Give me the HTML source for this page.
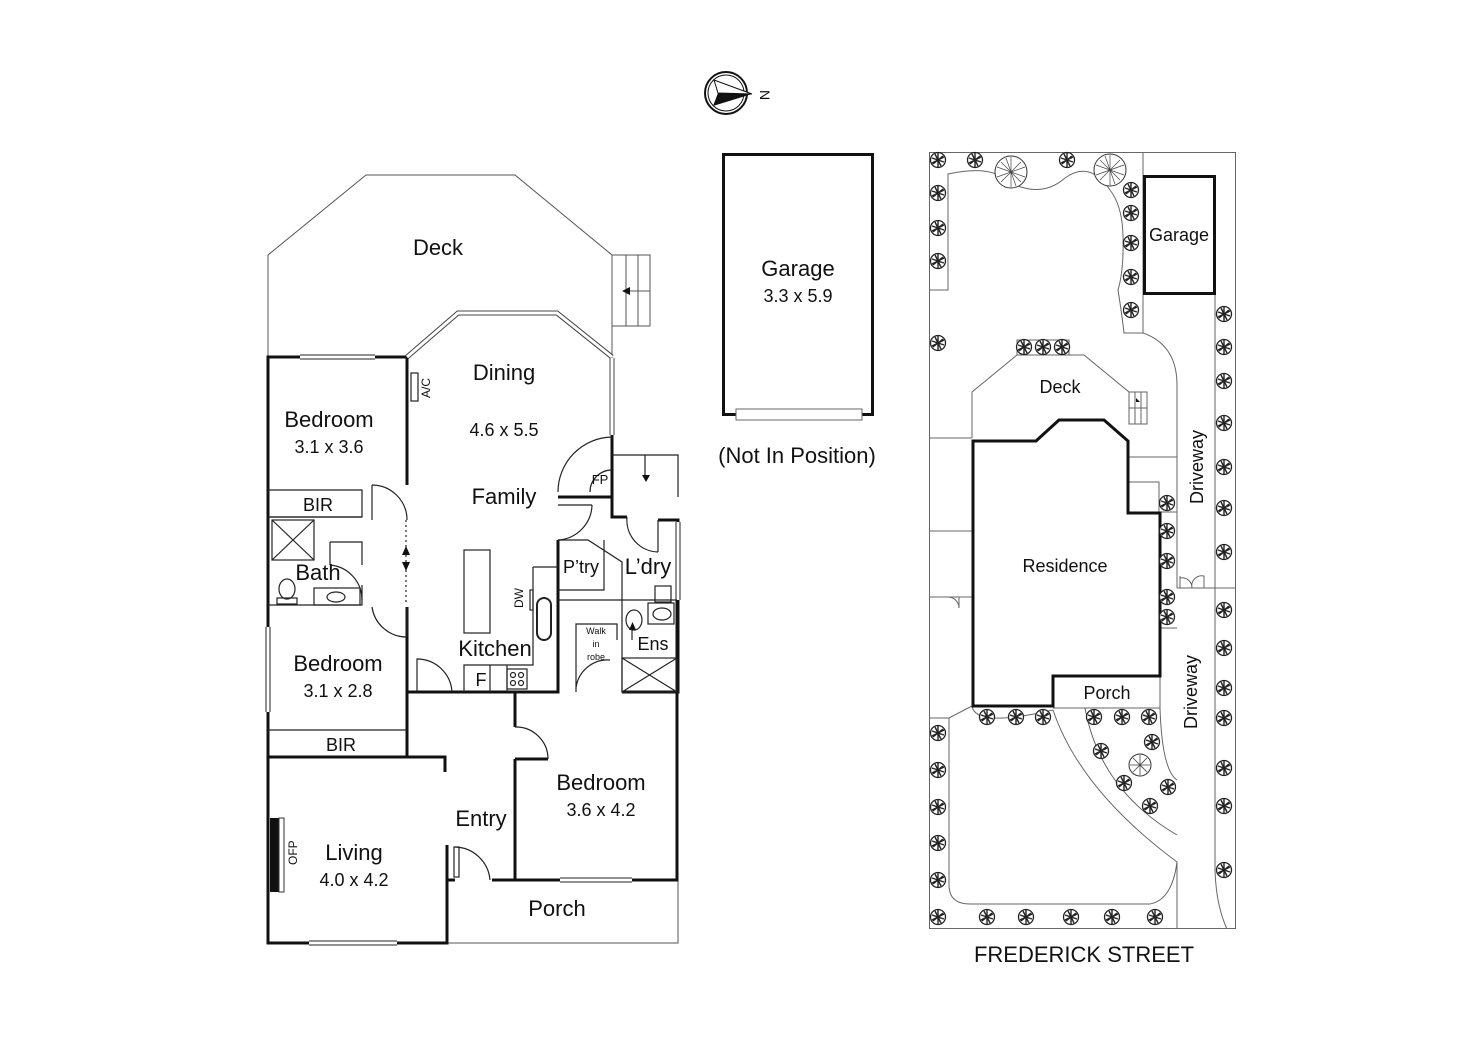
<!DOCTYPE html>
<html><head><meta charset="utf-8"><style>
html,body{margin:0;padding:0;background:#fff;}
svg{display:block;}
text{font-family:"Liberation Sans",Arial,sans-serif;fill:#111;}
.L{font-size:22px;} .D{font-size:18px;} .S{font-size:14px;}
</style></head><body>
<svg width="1472" height="1041" viewBox="0 0 1472 1041" xmlns="http://www.w3.org/2000/svg">
<defs>
<g id="t"><circle r="7.5" fill="#fff" stroke="#222" stroke-width="1.3"/><path d="M-6,-2 L6,2 M-5,4 L5,-4 M0,-7 L0,7 M-3,-6 L3,6 M-6,3 L6,-3" stroke="#222" stroke-width="1.4"/></g>
<g id="T"><circle r="16" fill="#fff" stroke="#333" stroke-width="1"/><path d="M0,-15 L0,15 M-14,-5 L14,5 M-10,10 L10,-10 M-10,-10 L10,10 M-5,-14 L5,14 M-14,5 L14,-5" stroke="#444" stroke-width="0.7"/></g>
</defs>

<!-- compass -->
<circle cx="726" cy="93" r="21" fill="#fff" stroke="#111" stroke-width="2"/>
<circle cx="726" cy="93" r="18" fill="none" stroke="#111" stroke-width="1"/>
<path d="M714,80 L752,94 L713,106 L718,93 Z" fill="#111"/>
<path d="M714,80 L752,94 L718,93 Z" fill="#fff" stroke="#111" stroke-width="1"/>
<text x="760" y="98" class="S" font-size="10" transform="rotate(90 764 94)">N</text>

<!-- ===== MAIN PLAN ===== -->
<g fill="none" stroke="#555" stroke-width="1">
<!-- deck -->
<path d="M268,358 L268,255 L366,175 L515,175 L612,255 L612,358"/>
<rect x="612" y="255" width="38" height="71"/>
<path d="M626,255V326 M638,255V326 M626,291H650"/>
<!-- porch -->
<path d="M447,943H678V880"/>
</g>
<path d="M622,291l8,-4v8z" fill="#111"/>

<g fill="none" stroke="#111" stroke-width="3">
<path d="M407,357H268V943H447V880"/>
<path d="M612,435V497H558"/>
<path d="M558,540V692H407V730"/>
<path d="M407,357V485 M407,607V757"/>
<path d="M612,497V517H627 M658,520H678V692H622"/>
<path d="M515,692V727 M515,759V880H677V600 M515,759H548"/>
<path d="M492,880H515"/>
<path d="M268,757H445V772 M447,845V880H455"/>
</g>
<g fill="none" stroke="#222" stroke-width="1.2">
<!-- dining bay windows -->
<path d="M407,357L458,313H557L612,357" stroke-width="5" stroke="#444"/>
<path d="M407,357L458,313H557L612,357" stroke-width="3" stroke="#fff"/>
<path d="M612,358V435" stroke-width="5" stroke="#444"/><path d="M612,358V435" stroke-width="3" stroke="#fff"/>
<!-- windows -->
<path d="M300,357H375" stroke-width="5"/><path d="M300,357H375" stroke-width="3" stroke="#fff"/>
<path d="M268,627V712" stroke-width="5"/><path d="M268,627V712" stroke-width="3" stroke="#fff"/>
<path d="M309,943H397" stroke-width="5"/><path d="M309,943H397" stroke-width="3" stroke="#fff"/>
<path d="M560,880H632" stroke-width="5"/><path d="M560,880H632" stroke-width="3" stroke="#fff"/>
<path d="M678,522V600" stroke-width="5"/><path d="M678,522V600" stroke-width="3" stroke="#fff"/>
<!-- rooms thin -->
<path d="M268,490H362V517H268 M362,490V517"/>
<path d="M268,517H362 M330,542H362V565 M362,585V605H268 M330,542V565"/>
<path d="M268,730H407"/>
<!-- doors arcs -->
<path d="M372,485A35,35 0 0 1 407,520 M372,485V520"/>
<path d="M330,565A35,35 0 0 1 362,600"/>
<path d="M407,607V637A35,35 0 0 1 372,607"/>
<path d="M612,437A55,55 0 0 0 558,492 M590,492A22,22 0 0 1 612,470"/>
<path d="M558,540A36,36 0 0 0 592,505 M558,505H592"/>
<path d="M627,517A32,32 0 0 0 658,552 M658,520V552"/>
<path d="M417,692V659A35,35 0 0 1 452,692"/>
<path d="M515,727A32,32 0 0 1 548,759"/>
<path d="M455,847A36,36 0 0 1 490,880"/>
<rect x="454" y="847" width="5" height="30"/>
<path d="M612,455H678V497 M645,455V478"/>
<!-- pantry etc -->
<path d="M558,540H588L622,562V692 M558,590H604V540"/>
<path d="M558,600H677"/>
<rect x="622" y="658" width="55" height="34"/><path d="M622,658L677,692M677,658L622,692"/>
<path d="M576,692V624H617V640 M576,692 M576,688A32,32 0 0 1 610,660"/>
<path d="M632,625V640"/>
<!-- kitchen -->
<rect x="464" y="550" width="26" height="83"/>
<path d="M533,567H558 M533,567V665H464V692 M490,665V692 M507,665V692"/>
<rect x="507" y="669" width="20" height="20"/><circle cx="513" cy="675" r="2.5"/><circle cx="521" cy="675" r="2.5"/><circle cx="513" cy="683" r="2.5"/><circle cx="521" cy="683" r="2.5"/>
<rect x="537" y="598" width="14" height="42" rx="7" stroke-width="2"/>
<rect x="530" y="590" width="3" height="20"/>
<rect x="411" y="373" width="7" height="28"/>
<!-- bath fixtures -->
<rect x="272" y="520" width="42" height="40"/><path d="M272,520L314,560M314,520L272,560"/>
<ellipse cx="287" cy="589" rx="8" ry="10"/><rect x="277" y="598" width="20" height="6"/>
<rect x="314" y="588" width="46" height="17"/><ellipse cx="336" cy="597" rx="9" ry="5"/>
<ellipse cx="634" cy="620" rx="8" ry="10"/>
<rect x="648" y="603" width="26" height="21"/><ellipse cx="662" cy="614" rx="9" ry="6"/>
<rect x="655" y="586" width="16" height="16"/>
<path d="M406,520V605" stroke-dasharray="2,3"/>
</g>
<path d="M402,555h8l-4,-9z M402,562h8l-4,9z M642,475h8l-4,7z M629,630h7l-3.5,-8z" fill="#111"/>
<rect x="270" y="818" width="9" height="74" fill="#111"/>
<rect x="279" y="818" width="5" height="74" fill="none" stroke="#333"/>

<!-- labels main -->
<text x="438" y="255" class="L" text-anchor="middle">Deck</text>
<text x="504" y="380" class="L" text-anchor="middle">Dining</text>
<text x="504" y="436" class="D" text-anchor="middle">4.6 x 5.5</text>
<text x="504" y="504" class="L" text-anchor="middle">Family</text>
<text x="329" y="427" class="L" text-anchor="middle">Bedroom</text>
<text x="329" y="453" class="D" text-anchor="middle">3.1 x 3.6</text>
<text x="318" y="511" class="D" text-anchor="middle">BIR</text>
<text x="318" y="580" class="L" text-anchor="middle">Bath</text>
<text x="338" y="671" class="L" text-anchor="middle">Bedroom</text>
<text x="338" y="697" class="D" text-anchor="middle">3.1 x 2.8</text>
<text x="341" y="751" class="D" text-anchor="middle">BIR</text>
<text x="354" y="860" class="L" text-anchor="middle">Living</text>
<text x="354" y="886" class="D" text-anchor="middle">4.0 x 4.2</text>
<text x="481" y="826" class="L" text-anchor="middle">Entry</text>
<text x="601" y="790" class="L" text-anchor="middle">Bedroom</text>
<text x="601" y="816" class="D" text-anchor="middle">3.6 x 4.2</text>
<text x="557" y="916" class="L" text-anchor="middle">Porch</text>
<text x="495" y="656" class="L" text-anchor="middle">Kitchen</text>
<text x="581" y="573" class="D" text-anchor="middle">P’try</text>
<text x="648" y="574" class="L" text-anchor="middle">L’dry</text>
<text x="653" y="650" class="D" text-anchor="middle">Ens</text>
<text x="481" y="686" class="D" text-anchor="middle">F</text>
<text x="600" y="484" font-size="13" text-anchor="middle">FP</text>
<text x="596" y="634" font-size="9" text-anchor="middle">Walk</text>
<text x="596" y="647" font-size="9" text-anchor="middle">in</text>
<text x="596" y="660" font-size="9" text-anchor="middle">robe</text>
<text font-size="12" transform="translate(430,398) rotate(-90)">A/C</text>
<text font-size="12" transform="translate(523,608) rotate(-90)">DW</text>
<text font-size="12" transform="translate(297,865) rotate(-90)">OFP</text>

<!-- ===== GARAGE ===== -->
<rect x="723.5" y="154.5" width="149" height="260" fill="none" stroke="#111" stroke-width="3"/>
<rect x="736" y="409" width="126" height="11" fill="#fff" stroke="#666"/>
<text x="798" y="276" class="L" text-anchor="middle">Garage</text>
<text x="798" y="302" class="D" text-anchor="middle">3.3 x 5.9</text>
<text x="797" y="463" class="L" text-anchor="middle">(Not In Position)</text>

<!-- ===== SITE PLAN ===== -->
<g fill="none" stroke="#666" stroke-width="1">
<rect x="929.5" y="152.5" width="306" height="776"/>
<path d="M929,290H948V174 Q990,165 1005,180 Q1040,200 1065,178 Q1090,160 1110,190 Q1122,205 1123,235 Q1124,270 1118,290 Q1122,315 1124,333H1143V152"/>
<path d="M1143,333 Q1177,345 1177,385V588"/>
<path d="M1215,294V588 M1177,588H1236 M1215,588V870 Q1216,905 1227,929"/>
<path d="M929,438H972 M929,531H972 M929,597H972 M929,718H949 L972,706"/>
<path d="M972,438V392L1017,355H1084L1129,392V402"/>
<rect x="1017" y="340" width="52" height="15"/>
<rect x="1129" y="392" width="18" height="32"/><path d="M1135,392V424 M1141,392V424 M1129,408H1147"/>
<path d="M1129,457H1177 M1129,482H1159V512 M1160,512H1177"/>
<path d="M1160,512V628H1177"/>
<path d="M948,597A11,11 0 0 1 959,608V597 M959,608V597"/>
<path d="M1180,588V578A10,10 0 0 1 1192,588 M1192,588A10,10 0 0 1 1204,576V588 M1180,576V588"/>
<path d="M972,706Q975,728 1053,710 M1053,708H1160V676"/>
<path d="M1053,710Q1080,790 1177,862V929"/>
<path d="M1085,708Q1100,790 1177,835"/>
<path d="M1160,708Q1162,770 1177,780"/>
<path d="M949,718V885Q949,904 970,904H1150Q1172,900 1177,862"/>
</g>
<path d="M1136,398v4h4z" fill="#111"/>
<path d="M973,441H1036L1059,420H1104L1128,441V513H1160V676H1053V706H973Z" fill="none" stroke="#111" stroke-width="3"/>
<rect x="1144.5" y="176.5" width="70" height="117" fill="none" stroke="#111" stroke-width="3"/>

<g>
<use href="#T" x="1011" y="172"/><use href="#T" x="1110" y="170"/>
<use href="#t" x="938" y="160"/><use href="#t" x="975" y="160"/><use href="#t" x="1067" y="160"/>
<use href="#t" x="938" y="193"/><use href="#t" x="938" y="228"/><use href="#t" x="938" y="261"/><use href="#t" x="938" y="343"/>
<use href="#t" x="1131" y="190"/><use href="#t" x="1131" y="213"/><use href="#t" x="1131" y="243"/><use href="#t" x="1131" y="277"/><use href="#t" x="1131" y="310"/>
<use href="#t" x="1024" y="347"/><use href="#t" x="1043" y="347"/><use href="#t" x="1062" y="347"/>
<use href="#t" x="1167" y="503"/><use href="#t" x="1167" y="531"/><use href="#t" x="1167" y="561"/><use href="#t" x="1167" y="597"/><use href="#t" x="1167" y="617"/>
<use href="#t" x="1224" y="314"/><use href="#t" x="1224" y="347"/><use href="#t" x="1224" y="381"/><use href="#t" x="1224" y="423"/><use href="#t" x="1224" y="467"/><use href="#t" x="1224" y="508"/><use href="#t" x="1224" y="552"/>
<use href="#t" x="1224" y="610"/><use href="#t" x="1224" y="648"/><use href="#t" x="1224" y="688"/><use href="#t" x="1224" y="718"/><use href="#t" x="1224" y="768"/><use href="#t" x="1224" y="806"/><use href="#t" x="1224" y="870"/>
<use href="#t" x="987" y="717"/><use href="#t" x="1016" y="717"/><use href="#t" x="1043" y="717"/>
<use href="#t" x="1094" y="717"/><use href="#t" x="1122" y="717"/><use href="#t" x="1149" y="717"/>
<use href="#t" x="1101" y="751"/><use href="#t" x="1152" y="742"/><use href="#t" x="1124" y="783"/><use href="#t" x="1168" y="787"/><use href="#t" x="1150" y="806"/>
<circle cx="1140" cy="765" r="11" fill="#fff" stroke="#333"/><path d="M1140,755V775M1130,765H1150M1133,758L1147,772M1147,758L1133,772" stroke="#444" stroke-width="0.8"/>
<use href="#t" x="938" y="733"/><use href="#t" x="938" y="770"/><use href="#t" x="938" y="807"/><use href="#t" x="938" y="843"/><use href="#t" x="938" y="880"/>
<use href="#t" x="938" y="917"/><use href="#t" x="987" y="917"/><use href="#t" x="1026" y="917"/><use href="#t" x="1071" y="917"/><use href="#t" x="1112" y="917"/><use href="#t" x="1155" y="917"/>
</g>

<text x="1060" y="393" class="D" text-anchor="middle">Deck</text>
<text x="1179" y="241" class="D" text-anchor="middle">Garage</text>
<text x="1065" y="572" class="D" text-anchor="middle">Residence</text>
<text x="1107" y="699" class="D" text-anchor="middle">Porch</text>
<text class="D" text-anchor="middle" transform="translate(1203,467) rotate(-90)">Driveway</text>
<text class="D" text-anchor="middle" transform="translate(1197,692) rotate(-90)">Driveway</text>
<text x="1084" y="962" class="L" text-anchor="middle">FREDERICK STREET</text>
</svg>
</body></html>
